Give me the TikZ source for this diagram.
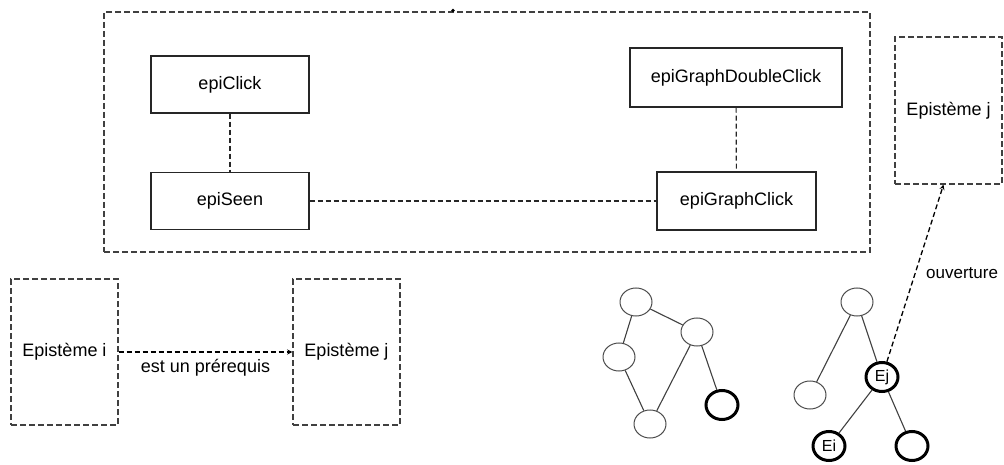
\documentclass[tikz,border=0pt]{standalone}
\usepackage{fontspec}
\setmainfont{Liberation Sans}
\usetikzlibrary{shapes,arrows,positioning,calc}

\begin{document}
\begin{tikzpicture}[
    x=1pt,y=-1pt,
    every node/.style={font=\fontsize{18}{20}\selectfont},
    box/.style={rectangle,draw=black!85,line width=1.4pt,text centered,inner sep=0pt},
    epibox/.style={rectangle,draw=black!75,dashed,dash pattern=on 6pt off 3pt,line width=1.4pt,
                   minimum width=107pt,minimum height=146pt,inner sep=0pt},
    vertex/.style={ellipse,draw=black!70,line width=1pt,minimum width=32pt,minimum height=28pt,inner sep=0pt},
    hvertex/.style={ellipse,draw=black,line width=3pt,minimum width=32pt,minimum height=29pt,inner sep=0pt,
                    font=\fontsize{16}{18}\selectfont},
    link/.style={draw=black!85,line width=1.2pt,dash pattern=on 5pt off 3pt},
    edge/.style={draw=black!75,line width=1.1pt},
    arr/.style={->,>=stealth,line width=1.3pt,dash pattern=on 5pt off 3pt}
]
\useasboundingbox (0,0) rectangle (1004,465);

% event frame
\node[rectangle,draw=black!75,dash pattern=on 6pt off 3pt,line width=1.4pt,
      minimum width=766pt,minimum height=240pt] (frame) at (487,132) {};
\fill[black] (453,10.5) circle (1.8pt);

\node[box,minimum width=158pt,minimum height=57pt] (click) at (230,84.5) {epiClick};
\node[box,minimum width=158pt,minimum height=57pt] (seen) at (230,201) {epiSeen};
\node[box,minimum width=212pt,minimum height=59pt] (gdclick) at (736,77.5) {epiGraphDoubleClick};
\node[box,minimum width=159pt,minimum height=58pt] (gclick) at (736.5,201) {epiGraphClick};

\draw[link] (click) -- (seen);
\draw[link] (seen) -- (gclick);
\draw[link] (gdclick) -- (gclick);

% prerequisite
\node[epibox] (epii) at (64.5,352) {Epistème i};
\node[epibox] (epij) at (346.5,352) {Epistème j};
\draw[arr] (epii) -- node[below=3pt]{est un prérequis} (epij);

% left graph
\node[vertex] (n1) at (636,302) {};
\node[vertex] (n2) at (697,332) {};
\node[vertex] (n3) at (619,357) {};
\node[vertex] (n4) at (650,424) {};
\node[hvertex] (n5) at (722,405) {};
\draw[edge] (n1) -- (n2);
\draw[edge] (n1) -- (n3);
\draw[edge] (n3) -- (n4);
\draw[edge] (n2) -- (n4);
\draw[edge] (n2) -- (n5);

% right graph
\node[vertex] (m1) at (857,302) {};
\node[hvertex] (ej) at (882,377) {Ej};
\node[vertex] (m3) at (810,395) {};
\node[hvertex] (ei) at (829,446) {Ei};
\node[hvertex] (m5) at (912,446) {};
\draw[edge] (m1) -- (m3);
\draw[edge] (m1) -- (ej);
\draw[edge] (ej) -- (ei);
\draw[edge] (ej) -- (m5);

% opening
\node[epibox,minimum height=147pt] (epir) at (948.5,110.5) {Epistème j};
\draw[arr] (ej) -- node[right=7pt,pos=0.5,font=\fontsize{17}{19}\selectfont]{ouverture} ($(epir.south)+(-5,0)$);
\end{tikzpicture}
\end{document}
